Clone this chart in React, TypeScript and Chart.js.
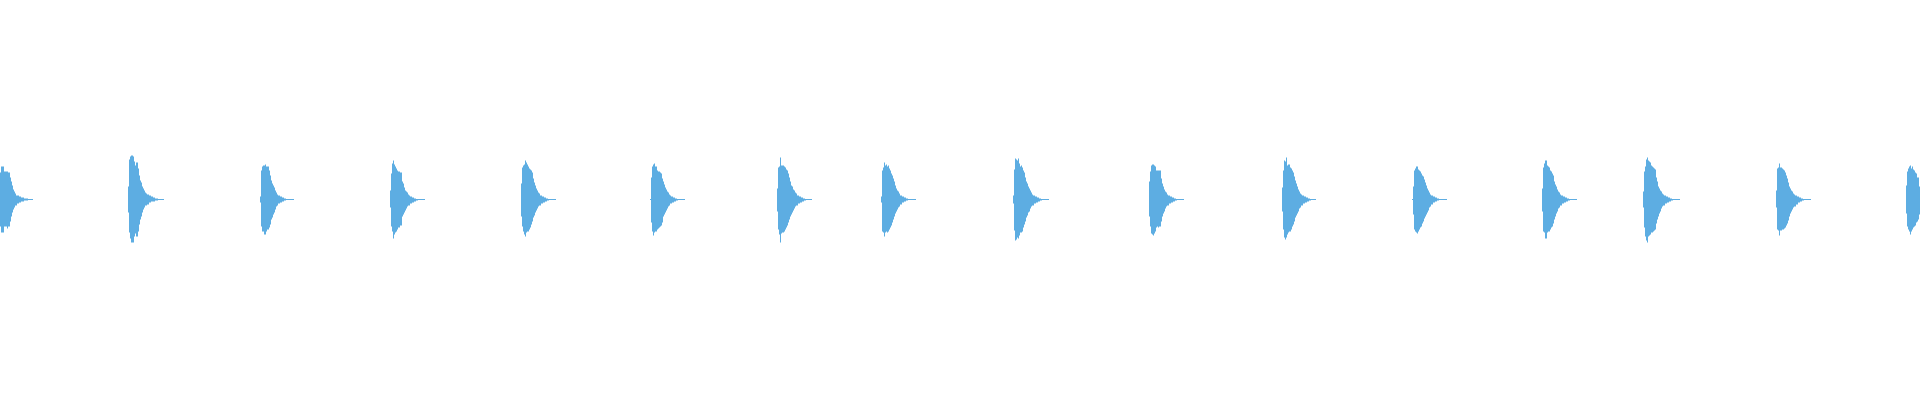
import React, { useEffect, useRef } from "react";
import { Chart, registerables } from "chart.js";

Chart.register(...registerables);

// Waveform: amplitude in % of full scale, read per 1-px column from the picture.
const SAMPLE_COUNT = 1920;

// Column where each hit starts
const BEAT_ONSETS = [0, 128, 260, 390, 521, 650, 777, 881, 1013, 1149, 1282, 1412, 1542, 1643, 1776, 1906];

// Positive (upper) envelope of each hit, per column after its onset
const BEAT_TOPS = [
  [13.5,16.5,16.5,16.5,14,14,14,14,13.5,13.5,11,9,7,5,4,3,2,2,2,1.5,1.5,1,1,1,0.5,0.5,0.5,0.5,0.25,0.25,0.25,0.25,0.25],
  [6.5,20,21.5,22,22,21.5,19,17,18.5,18.5,15.5,12,9.5,8.5,6.5,5.5,4.5,3.5,3,2.5,2.5,2,2,1.5,1.5,1,1,0.5,0.5,0.5,0.25,0.25,0.25,0.25,0.25,0.25],
  [1.5,14.5,16.5,17,17,17.5,16.5,16.5,16.5,14.5,12,9.5,8,7,6,4.5,3.5,2.5,2,2,1.5,1.5,1,1,0.5,0.5,0.25,0.25,0.25,0.25,0.25,0.25,0.25,0.25],
  [4.5,13,18,19.5,17.5,16.5,15.5,14.5,14,14,13.5,13.5,9,8,6,4.5,4,3.5,2.5,2,1.5,1.5,1,1,0.5,0.5,0.25,0.25,0.25,0.25,0.25,0.25,0.25,0.25,0.25],
  [8,16,17,17.5,19.5,18.5,17.5,16.5,15.5,15,14.5,13.5,10.5,8.5,7,5.5,4.5,3.5,3,2,2,1.5,1.5,1,1,0.5,0.5,0.25,0.25,0.25,0.25,0.25,0.25,0.25,0.25],
  [0.25,11,16.5,17.5,18,16.5,16.5,14.5,14,14,13.5,13,10.5,9,7.5,6,5,4,3.5,2.5,2,1.5,1.5,1,1,0.5,0.5,0.25,0.25,0.25,0.25,0.25,0.25,0.25,0.25],
  [5.5,16,16.5,21,17,17,17,16.5,16,15,14.5,13,11,9,7,6.5,5,4.5,3.5,3,2,2,1.5,1.5,1,1,0.5,0.5,0.25,0.25,0.25,0.25,0.25,0.25,0.25],
  [1.5,14.5,16,18.5,17,17.5,16.5,17,15.5,14.5,13,12,10.5,9,7,5.5,4.5,4,3,2,2,1.5,1.5,1,1,0.5,0.5,0.25,0.25,0.25,0.25,0.25,0.25,0.25,0.25],
  [2,15,20.5,20,19.5,20.5,18,16.5,17,16,14.5,13.5,11,9,8,6.5,5.5,4.5,3.5,2.5,2,2,1.5,1.5,1,1,0.5,0.5,0.25,0.25,0.25,0.25,0.25,0.25,0.25,0.25],
  [9,14,17,17.5,17.5,17,16.5,14.5,14.5,14.5,14.5,14.5,10.5,8,6.5,5,4,3.5,2.5,2,2,1.5,1.5,1,1,0.5,0.5,0.25,0.25,0.25,0.25,0.25,0.25,0.25,0.25],
  [6,14.5,19.5,19,21,17,17.5,17.5,16,15.5,14.5,13.5,11.5,9.5,8,6.5,5,4,3,2.5,2,2,1.5,1.5,1,1,0.5,0.5,0.25,0.25,0.25,0.25,0.25,0.25],
  [0.25,6.5,14.5,15.5,16.5,16.5,15,14.5,14,13,12,11.5,10,8.5,7,5.5,4.5,3.5,2.5,2,2,1.5,1.5,1,1,0.5,0.5,0.25,0.25,0.25,0.25,0.25,0.25,0.25,0.25],
  [5.5,16,18,19.5,19.5,17,16.5,16,14.5,14,13,12,9,7.5,6.5,5,4,3.5,2.5,2,2,1.5,1.5,1,1,0.5,0.5,0.25,0.25,0.25,0.25,0.25,0.25,0.25,0.25],
  [4,14,16.5,20,21,19.5,19,18.5,17,16.5,16,15.5,15,11,9,6.5,5.5,4.5,4,3,2.5,2,2,1.5,1.5,1,1,0.5,0.5,0.25,0.25,0.25,0.25,0.25,0.25,0.25,0.25],
  [4.5,15.5,16,18,16,16,15.5,15,14.5,13.5,12,10.5,8.5,6.5,5.5,4.5,4,3,2.5,2,2,1.5,1.5,1,1,0.5,0.5,0.25,0.25,0.25,0.25,0.25,0.25,0.25,0.25],
  [7,14,15.5,16.5,17,15.5,16.5,15,14.5,13.5,13,11,11,6.5],
];

// Negative (lower) envelope of each hit, magnitude per column after its onset
const BEAT_BOTTOMS = [
  [13.5,16.5,16.5,16.5,13.5,13.5,13.5,14.5,13.5,13.5,11,8.5,6.5,5,4,3,3,2,2,1.5,1.5,1,1,1,0.5,0.5,0.5,0.5,0.25,0.25,0.25,0.25,0.25],
  [6.5,16.5,19.5,21.5,21.5,21.5,18.5,17,18.5,18.5,16,12.5,10,8.5,6.5,5,4,3,3,2.5,2.5,1.5,1.5,1,1,1,1,0.5,0.5,0.5,0.25,0.25,0.25,0.25,0.25,0.25],
  [1.5,13.5,16,16,17.5,17.5,16,15,15,14,12.5,10,9,7.5,6.5,5,3.5,3,2,2,1.5,1.5,1,1,0.5,0.5,0.25,0.25,0.25,0.25,0.25,0.25,0.25,0.25],
  [4,13.5,16,19.5,17.5,16.5,16,15,14,14,13,13,8.5,7.5,6.5,5.5,4.5,3.5,3,3,2,2,1.5,1.5,1,1,0.5,0.5,0.25,0.25,0.25,0.25,0.25,0.25,0.25],
  [8.5,13.5,16,17.5,18.5,16.5,16,16,15,14,12.5,11,9,8,6.5,5.5,4.5,3.5,3,3,2,2,1.5,1.5,1,1,0.5,0.5,0.25,0.25,0.25,0.25,0.25,0.25,0.25],
  [0.25,11.5,16,18,16.5,16,16,15,14.5,14,13.5,13,11.5,8.5,7.5,6.5,5.5,4.5,3.5,3,2,2,1.5,1.5,1,1,0.5,0.5,0.25,0.25,0.25,0.25,0.25,0.25,0.25],
  [6,15,17.5,21.5,17,16.5,16.5,16,15,14,13,11.5,10,8.5,7.5,6.5,5.5,4.5,3.5,3,3,2,2,1.5,1.5,1,1,0.5,0.5,0.25,0.25,0.25,0.25,0.25,0.25],
  [1.5,16,16.5,18.5,16.5,16,16.5,16,15,14,13,11.5,10,8.5,7,6,5,4,3.5,2.5,2.5,1.5,1.5,1,1,0.5,0.5,0.25,0.25,0.25,0.25,0.25,0.25,0.25,0.25],
  [2,15.5,20.5,20,19,19.5,18,16.5,16.5,16,14,12.5,11,9,8,6.5,6,4.5,3.5,3,3,2,2,1.5,1.5,1,1,0.5,0.5,0.25,0.25,0.25,0.25,0.25,0.25,0.25],
  [8.5,13.5,17,17.5,18,17,16,14,13.5,14,13.5,13.5,11,8.5,7,6,4.5,3.5,3,3,2,2,1.5,1.5,1,1,0.5,0.5,0.25,0.25,0.25,0.25,0.25,0.25,0.25],
  [6,15,19,20,19,17.5,16.5,16,16,15,13.5,12.5,11,9,8,7,6,4.5,4,3,3,2,2,1.5,1.5,1,1,0.5,0.5,0.25,0.25,0.25,0.25,0.25],
  [0.25,7.5,15,16,16.5,17,16,15,14,13.5,12,11,9.5,8.5,7.5,6.5,5.5,4,3.5,2.5,2.5,1.5,1.5,1,1,0.5,0.5,0.25,0.25,0.25,0.25,0.25,0.25,0.25,0.25],
  [6,16,16.5,19.5,19.5,16.5,16,16,15,14,13.5,12,10,8.5,7,6,4.5,4,3,3,2,2,1.5,1.5,1,1,0.5,0.5,0.25,0.25,0.25,0.25,0.25,0.25,0.25],
  [4,14,18.5,20.5,21.5,18.5,18,17.5,16.5,16.5,16,15.5,15,12,10,8.5,7,6,4.5,3.5,3,3,2,2,1.5,1.5,1,1,0.5,0.5,0.25,0.25,0.25,0.25,0.25,0.25,0.25],
  [4,15,15.5,18,15.5,15.5,15,15,14.5,14,13,12,10.5,8.5,7,6,5,4,3.5,3.5,2.5,2.5,1.5,1.5,1,1,0.5,0.5,0.25,0.25,0.25,0.25,0.25,0.25,0.25],
  [7,13.5,15,16,17.5,16,15,14,13.5,13,11.5,11,10,7.5],
];

const Y_MIN = -100;
const Y_MAX = 100;
const WAVE_COLOR = "#5dade2";

function buildSeries(): ([number, number] | null)[] {
  const out: ([number, number] | null)[] = new Array(SAMPLE_COUNT).fill(null);
  BEAT_ONSETS.forEach((onset, b) => {
    const tops = BEAT_TOPS[b];
    const bots = BEAT_BOTTOMS[b];
    for (let i = 0; i < tops.length; i++) {
      const x = onset + i;
      if (x >= 0 && x < SAMPLE_COUNT) out[x] = [-bots[i], tops[i]];
    }
  });
  return out;
}

export default function App() {
  const ref = useRef<HTMLCanvasElement | null>(null);
  useEffect(() => {
    if (!ref.current) return;
    const labels = Array.from({ length: SAMPLE_COUNT }, (_, i) => String(i));
    const chart = new Chart(ref.current, {
      type: "bar",
      data: {
        labels,
        datasets: [
          {
            data: buildSeries() as any,
            backgroundColor: WAVE_COLOR,
            borderWidth: 0,
            barPercentage: 1,
            categoryPercentage: 1,
            inflateAmount: 0,
          } as any,
        ],
      },
      options: {
        animation: false,
        responsive: false,
        maintainAspectRatio: false,
        devicePixelRatio: 1,
        layout: { padding: 0 },
        plugins: { legend: { display: false }, tooltip: { enabled: false } },
        scales: {
          x: { display: false, grid: { display: false } },
          y: { display: false, min: Y_MIN, max: Y_MAX, grid: { display: false } },
        },
      },
    });
    return () => chart.destroy();
  }, []);
  return (
    <div style={{ position: "fixed", left: 0, top: 0, width: 1920, height: 400, background: "#fff" }}>
      <canvas ref={ref} width={1920} height={399} style={{ display: "block" }} />
    </div>
  );
}
